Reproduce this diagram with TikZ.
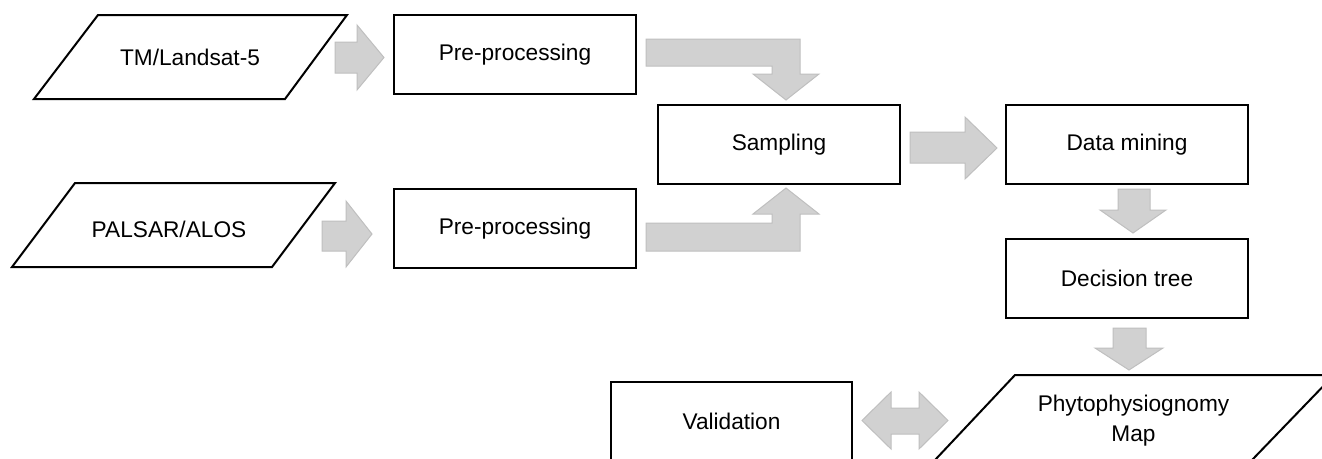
\documentclass[tikz,border=0pt]{standalone}
\usepackage{fontspec}
\setmainfont{Liberation Sans}
\begin{document}
\begin{tikzpicture}[x=0.75pt,y=-0.75pt,
  box/.style={draw=black,line width=1.5pt,fill=white,minimum width=181.5pt,minimum height=59.25pt,inner sep=0pt,font=\fontsize{17}{22.5}\selectfont},
  para/.style={draw=black,line width=1.5pt,line join=miter},
  lbl/.style={font=\fontsize{17}{22.5}\selectfont,align=center,inner sep=0pt},
  blockarrow/.style={fill=black!18,draw=black!25,line width=0.75pt,line join=miter}]
\useasboundingbox (0,0) rectangle (1322,458);
\clip (0,0) rectangle (1322,458);
% input parallelograms
\draw[para] (98,15) -- (347,15) -- (285,99) -- (34,99) -- cycle;
\node[lbl] (tm) at (190,57) {TM/Landsat-5};
\draw[para] (75,183) -- (335,183) -- (272,267) -- (12,267) -- cycle;
\node[lbl] (palsar) at (169,229) {PALSAR/ALOS};
% boxes
\node[box] (pp1) at (515,54.5) {Pre-processing};
\node[box] (pp2) at (515,228.5) {Pre-processing};
\node[box] (samp) at (779,144.5) {Sampling};
\node[box] (dm) at (1127,144.5) {Data mining};
\node[box] (dt) at (1127,278.5) {Decision tree};
\node[box,minimum width=180.75pt] (val) at (731.5,421) {Validation};
% output parallelogram
\draw[para] (1015,375) -- (1334,375) -- (1252,460) -- (935,460) -- cycle;
\node[lbl] (map) at (1133.5,421) {Phytophysiognomy\\Map};
% block arrows
\filldraw[blockarrow] (335,42) -- (357,42) -- (357,25) -- (384,57.5) -- (357,90) -- (357,73) -- (335,73) -- cycle;
\filldraw[blockarrow] (322,221) -- (346,221) -- (346,201) -- (372,234) -- (346,267) -- (346,251) -- (322,251) -- cycle;
\filldraw[blockarrow] (646,39) -- (800,39) -- (800,74) -- (819,74) -- (786,100) -- (753,74) -- (772,74) -- (772,66) -- (646,66) -- cycle;
\filldraw[blockarrow] (646,251) -- (800,251) -- (800,214) -- (819,214) -- (786,188) -- (753,214) -- (772,214) -- (772,223) -- (646,223) -- cycle;
\filldraw[blockarrow] (910,132) -- (965,132) -- (965,117) -- (997,148) -- (965,179) -- (965,163) -- (910,163) -- cycle;
\filldraw[blockarrow] (1118,189) -- (1150,189) -- (1150,210) -- (1166,210) -- (1133,233) -- (1100,210) -- (1118,210) -- cycle;
\filldraw[blockarrow] (1113,328) -- (1146,328) -- (1146,348) -- (1163,348) -- (1129,370) -- (1095,348) -- (1113,348) -- cycle;
\filldraw[blockarrow] (862,420.5) -- (891,392) -- (891,408) -- (919,408) -- (919,392) -- (948,420.5) -- (919,449) -- (919,434) -- (891,434) -- (891,449) -- cycle;
\end{tikzpicture}
\end{document}
